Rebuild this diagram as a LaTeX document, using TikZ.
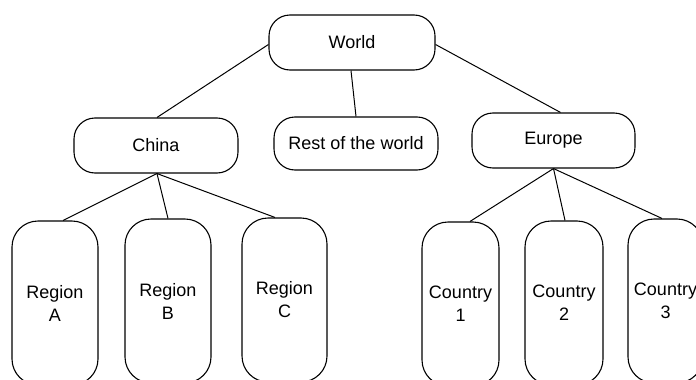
\documentclass[tikz,border=0pt]{standalone}
\usepackage{fontspec}
\setmainfont{Liberation Sans}
\tikzset{
  box/.style={draw, line width=1.1pt, rounded corners=21pt, align=center,
    font=\fontsize{18}{23}\selectfont, inner sep=0pt, fill=white},
  leaf/.style={box, rounded corners=26pt, minimum height=164pt},
  link/.style={line width=1pt}
}
\begin{document}
\begin{tikzpicture}[x=1pt,y=-1pt]
\useasboundingbox (0,0) rectangle (696,380);
\clip (0,0) rectangle (696,380);
\fill[white] (0,0) rectangle (696,380);
% top level
\node[box, minimum width=166pt, minimum height=55pt] (world) at (352,42.5) {World};
% second level
\node[box, minimum width=164pt, minimum height=55pt] (china) at (156,145.5) {China};
\node[box, minimum width=164pt, minimum height=53pt] (rest) at (356,143.5) {Rest of the world};
\node[box, minimum width=163pt, minimum height=55pt] (europe) at (553.5,140.5) {Europe};
% third level
\node[leaf, minimum width=86pt] (ra) at (55,303) {Region\\A};
\node[leaf, minimum width=86pt] (rb) at (168,301) {Region\\B};
\node[leaf, minimum width=85pt] (rc) at (284.5,300) {Region\\C};
\node[leaf, minimum width=77pt] (c1) at (460.5,304) {Country\\1};
\node[leaf, minimum width=78pt] (c2) at (564,303) {Country\\2};
\node[leaf, minimum width=75pt] (c3) at (665.5,301) {Country\\3};
% connectors
\draw[link] ([xshift=1pt]china.north) -- ([yshift=-2pt]world.west);
\draw[link] (rest.north) -- ([xshift=-1pt]world.south);
\draw[link] ([xshift=7pt]europe.north) -- ([yshift=-2pt]world.east);
\draw[link] ([xshift=1pt]china.south) -- ([xshift=8pt]ra.north);
\draw[link] ([xshift=1pt]china.south) -- (rb.north);
\draw[link] ([xshift=1pt]china.south) -- ([xshift=-9.5pt]rc.north);
\draw[link] (europe.south) -- ([xshift=9.5pt]c1.north);
\draw[link] (europe.south) -- ([xshift=1pt]c2.north);
\draw[link] (europe.south) -- ([xshift=-3.5pt]c3.north);
\end{tikzpicture}
\end{document}
